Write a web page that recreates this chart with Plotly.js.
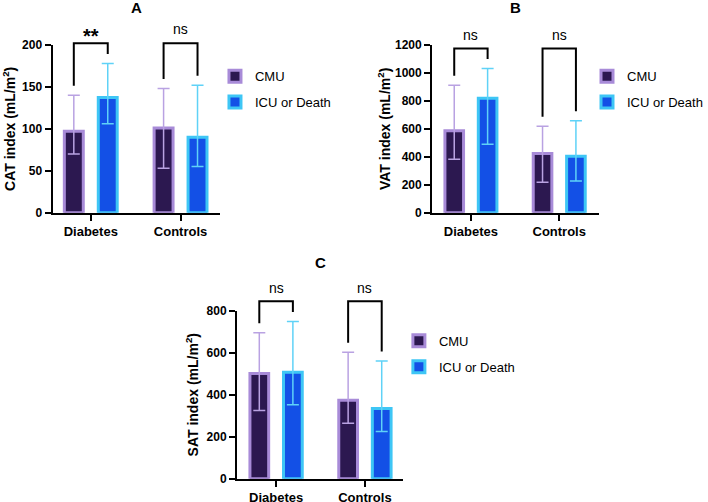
<!DOCTYPE html>
<html>
<head>
<meta charset="utf-8">
<script src="https://cdn.plot.ly/plotly-3.0.1.min.js"></script>
<style>html,body{margin:0;padding:0;background:#fff;}#chart{width:708px;height:502px;}</style>
</head>
<body>
<div id="chart"></div>
<script>
// ---- data ----
const categories = ['Diabetes', 'Controls'];
const seriesNames = ['CMU', 'ICU or Death'];

// Panel A: CAT index
const aCMU = [97, 101];
const aCMUhi = [140, 148];
const aCMUlo = [70, 53];
const aICU = [137.5, 90];
const aICUhi = [178, 152];
const aICUlo = [106, 55];
const aSig = ['**', 'ns'];

// Panel B: VAT index
const bCMU = [586, 423];
const bCMUhi = [911, 618];
const bCMUlo = [382, 217];
const bICU = [819, 404];
const bICUhi = [1031, 658];
const bICUlo = [489, 227];
const bSig = ['ns', 'ns'];

// Panel C: SAT index
const cCMU = [501, 374];
const cCMUhi = [695, 602];
const cCMUlo = [325, 264];
const cICU = [507, 334];
const cICUhi = [749, 560];
const cICUlo = [352, 225];
const cSig = ['ns', 'ns'];

const panelLetters = ['A', 'B', 'C'];
const yTitles = ['CAT index (mL/m<sup>2</sup>)', 'VAT index (mL/m<sup>2</sup>)', 'SAT index (mL/m<sup>2</sup>)'];
const yMax = [200, 1200, 800];
const yStep = [50, 200, 200];

// ---- styling ----
const FONT = 'Arial, "Liberation Sans", sans-serif';
const cmuFill = '#2c1850', cmuLine = '#a88bd8', cmuErr = '#b9a2e2';
const icuFill = '#1350e6', icuLine = '#3ec6f5', icuErr = '#5fd2f7';
const BARGAP = 0.244, BARGROUPGAP = 0.442;
const OFF = (1 - BARGAP) / 4; // centre offset of each bar within a group

const panels = [
  {cmu: aCMU, cmuHi: aCMUhi, cmuLo: aCMUlo, icu: aICU, icuHi: aICUhi, icuLo: aICUlo, sig: aSig,
   xd: [0.0744, 0.3117], yd: [0.5763, 0.9104], xr: [-0.426, 1.44], leg: {x: 0.3045, y: 0.878}, sigShift: [-6, 4]},
  {cmu: bCMU, cmuHi: bCMUhi, cmuLo: bCMUlo, icu: bICU, icuHi: bICUhi, icuLo: bICUlo, sig: bSig,
   xd: [0.6120, 0.8484], yd: [0.5763, 0.9104], xr: [-0.44, 1.45], leg: {x: 0.832, y: 0.878}, sigShift: [3, 3]},
  {cmu: cCMU, cmuHi: cCMUhi, cmuLo: cCMUlo, icu: cICU, icuHi: cICUhi, icuLo: cICUlo, sig: cSig,
   xd: [0.3357, 0.5710], yd: [0.0464, 0.3811], xr: [-0.44, 1.43], leg: {x: 0.565, y: 0.351}, sigShift: [3, 3]}
];

const traces = [];
const layout = {
  width: 708, height: 502,
  margin: {l: 0, r: 0, t: 0, b: 0},
  paper_bgcolor: '#fff', plot_bgcolor: 'rgba(0,0,0,0)',
  font: {family: FONT, color: '#000', size: 13},
  barmode: 'group', bargap: BARGAP, bargroupgap: BARGROUPGAP,
  shapes: [], annotations: []
};

panels.forEach((p, i) => {
  const n = i === 0 ? '' : String(i + 1);
  const xa = 'x' + n, ya = 'y' + n;
  const legendId = 'legend' + n;
  traces.push({
    type: 'bar', name: seriesNames[0], x: categories, y: p.cmu,
    xaxis: xa, yaxis: ya, legend: legendId, legendgroup: 'cmu' + i,
    marker: {color: cmuFill, line: {color: cmuLine, width: 3}},
    error_y: {type: 'data', symmetric: false,
      array: p.cmuHi.map((v, k) => v - p.cmu[k]),
      arrayminus: p.cmu.map((v, k) => v - p.cmuLo[k]),
      color: cmuErr, thickness: 1.5, width: 6},
    hoverinfo: 'x+y'
  });
  traces.push({
    type: 'bar', name: seriesNames[1], x: categories, y: p.icu,
    xaxis: xa, yaxis: ya, legend: legendId, legendgroup: 'icu' + i,
    marker: {color: icuFill, line: {color: icuLine, width: 3}},
    error_y: {type: 'data', symmetric: false,
      array: p.icuHi.map((v, k) => v - p.icu[k]),
      arrayminus: p.icu.map((v, k) => v - p.icuLo[k]),
      color: icuErr, thickness: 1.5, width: 6},
    hoverinfo: 'x+y'
  });

  layout['xaxis' + n] = {
    domain: p.xd, anchor: ya, range: p.xr, type: 'category',
    showline: true, linecolor: '#000', linewidth: 2,
    ticks: 'outside', ticklen: 6, tickwidth: 2, tickcolor: '#000',
    tickfont: {family: FONT, size: 13, weight: 'bold', color: '#000'},
    showgrid: false, zeroline: false, fixedrange: true
  };
  layout['yaxis' + n] = {
    domain: p.yd, anchor: xa, range: [0, yMax[i]], dtick: yStep[i], tick0: 0,
    showline: true, linecolor: '#000', linewidth: 2,
    ticks: 'outside', ticklen: 6, tickwidth: 2, tickcolor: '#000',
    tickfont: {family: FONT, size: 12, weight: 'bold', color: '#000'},
    showgrid: false, zeroline: false, fixedrange: true,
    title: {text: yTitles[i], font: {family: FONT, size: 14, weight: 'bold', color: '#000'}}
  };
  layout[legendId] = {
    x: p.leg.x, y: p.leg.y, xanchor: 'left', yanchor: 'top',
    bgcolor: 'rgba(0,0,0,0)', borderwidth: 0, tracegroupgap: 6,
    font: {family: FONT, size: 13, color: '#000'}
  };

  // panel letter
  layout.annotations.push({
    xref: xa + ' domain', yref: 'paper', x: 0.5, y: i < 2 ? 0.985 : 0.477,
    xanchor: 'center', yanchor: 'middle', showarrow: false,
    text: panelLetters[i], font: {family: FONT, size: 15, weight: 'bold', color: '#000'}
  });

  // significance brackets (y in domain fraction, derived from the data)
  const axisPx = (p.yd[1] - p.yd[0]) * 502;
  const legL = p.cmuHi.map(v => v / yMax[i] + 9.5 / axisPx);
  const legR = p.icuHi.map(v => v / yMax[i] + 9.5 / axisPx);
  const top = Math.max(...legL, ...legR) + 10.7 / axisPx;
  categories.forEach((c, k) => {
    const xl = k - OFF, xr = k + OFF;
    layout.shapes.push({
      type: 'path', xref: xa, yref: ya + ' domain',
      path: `M ${xl},${legL[k]} L ${xl},${top} L ${xr},${top} L ${xr},${legR[k]}`,
      line: {color: '#000', width: 2}
    });
    const bold = p.sig[k] === '**';
    layout.annotations.push({
      xref: xa, yref: ya + ' domain', x: k, y: top, xanchor: 'center', yanchor: 'bottom',
      yshift: p.sigShift[k], showarrow: false, text: p.sig[k],
      font: {family: FONT, size: bold ? 20 : 14, weight: bold ? 'bold' : 'normal', color: '#000'}
    });
  });
});

Plotly.newPlot('chart', traces, layout, {displayModeBar: false, staticPlot: true});
</script>
</body>
</html>
